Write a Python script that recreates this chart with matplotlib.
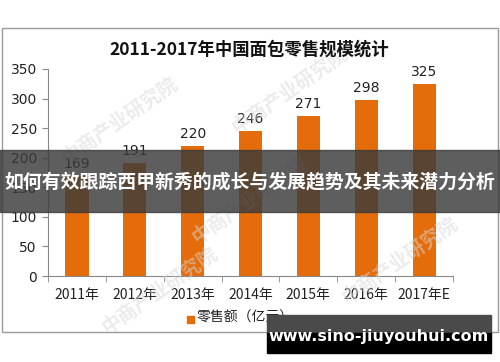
import matplotlib
matplotlib.use("Agg")
import matplotlib.pyplot as plt
from matplotlib.patches import Rectangle
import numpy as np

plt.rcParams['font.family'] = ['Noto Sans CJK SC', 'DejaVu Sans']

categories = ["2011年", "2012年", "2013年", "2014年", "2015年", "2016年", "2017年E"]
values = [169, 191, 220, 246, 271, 298, 325]
yticks = [0, 50, 100, 150, 200, 250, 300, 350]
title = "2011-2017年中国面包零售规模统计"
legend_label = "零售额（亿元）"
banner_text = "如何有效跟踪西甲新秀的成长与发展趋势及其未来潜力分析"
site_text = "www.sino-jiuyouhui.com"

W, H = 500, 362
fig = plt.figure(figsize=(5, 3.62), dpi=100)
fig.patch.set_facecolor("white")

def fx(px): return px / W
def fy(py): return 1 - py / H

# outer frame
fig.patches.append(Rectangle((fx(2), fy(332)), fx(496), (332 - 28) / H,
                             transform=fig.transFigure, fill=False,
                             edgecolor="#9a9a9a", linewidth=1.0, zorder=0))

# watermarks (faint)
wm_kw = dict(rotation=35, color="#d8d8d8", alpha=0.5, ha="center", va="center",
             fontsize=14, fontweight="bold", zorder=1)
for (px, py) in [(120, 120), (290, 90), (250, 200), (160, 290), (400, 260)]:
    fig.text(fx(px), fy(py), "中商产业研究院", **wm_kw)

ax = fig.add_axes([fx(48), fy(276), fx(453 - 48), (276 - 69) / H])
ax.set_facecolor("none")
x = np.arange(len(categories))
bar_color = "#E46C0A"
ax.bar(x, values, width=0.4, color=bar_color, zorder=2)
for xi, v in zip(x, values):
    ax.text(xi, v + 8, str(v), ha="center", va="bottom", fontsize=10,
            color="#222222", family=["DejaVu Sans"])

ax.set_xlim(-0.5, len(categories) - 0.5)
ax.set_ylim(0, 350)
ax.set_yticks(yticks)
ax.set_yticklabels([str(t) for t in yticks], fontsize=10, color="#222222",
                   family=["DejaVu Sans"])
ax.set_xticks(x)
ax.set_xticklabels(categories, fontsize=10, color="#222222")
ax.tick_params(axis="x", length=0, pad=9)
ax.set_xticks(np.arange(len(categories) + 1) - 0.5, minor=True)
ax.tick_params(axis="x", which="minor", length=4, color="#888888")
ax.tick_params(axis="y", length=4, color="#888888", pad=4)
for s in ["top", "right"]:
    ax.spines[s].set_visible(False)
ax.spines["left"].set_color("#888888")
ax.spines["bottom"].set_color("#888888")

# title
fig.text(fx(249), fy(50), title, ha="center", va="center", fontsize=12.5,
         fontweight="bold", color="#111111")

# legend
fig.patches.append(Rectangle((fx(187), fy(323)), fx(7), 7 / H,
                             transform=fig.transFigure, color=bar_color))
fig.text(fx(197), fy(318), legend_label, ha="left", va="center",
         fontsize=10, color="#222222")

# banner
fig.patches.append(Rectangle((0, fy(212)), 1, (212 - 150) / H,
                             transform=fig.transFigure, color="#3a3a3a",
                             alpha=0.82, zorder=5))
fig.text(0.5, fy(182), banner_text, ha="center", va="center", fontsize=13.6,
         fontweight="bold", color="white", zorder=6)

# site box
fig.patches.append(Rectangle((fx(267), fy(333)), fx(224), (333 - 315) / H,
                             transform=fig.transFigure, color="#4a4a4a", zorder=5))
fig.patches.append(Rectangle((fx(267), fy(353)), fx(224), (353 - 333) / H,
                             transform=fig.transFigure, color="black", zorder=5))
fig.text(fx(379), fy(336), site_text, ha="center", va="center", fontsize=11.5,
         fontweight="bold", color="white", zorder=6, family=["DejaVu Sans"])

fig.savefig("out.png", dpi=100)
